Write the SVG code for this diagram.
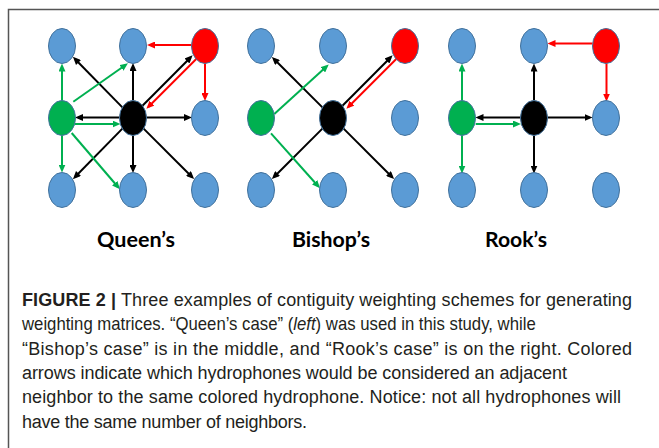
<svg xmlns="http://www.w3.org/2000/svg" width="659" height="448" viewBox="0 0 659 448">
<defs>
<style>
.n{stroke:#41719c;stroke-width:1}
.b{fill:#5b9bd5}
.r{fill:#ff0000}
.g{fill:#00b050}
.k{fill:#000000}
.ck{stroke:#000;stroke-width:2;fill:none;marker-end:url(#ak)}
.cr{stroke:#ff0000;stroke-width:2;fill:none;marker-end:url(#ar)}
.cg{stroke:#00b050;stroke-width:2;fill:none;marker-end:url(#ag)}
.lbl{font-family:Lato,"Liberation Sans",sans-serif;font-weight:bold;font-size:21px;fill:#000;text-anchor:middle}
.cap{font-family:"Liberation Sans",Arial,sans-serif;font-size:18px;fill:#231f20}
.capb{font-weight:bold}
</style>
<marker id="ak" markerUnits="userSpaceOnUse" markerWidth="8" markerHeight="7" refX="5" refY="3.5" orient="auto"><path d="M0,0 L8,3.5 L0,7 z" fill="#000"/></marker>
<marker id="ar" markerUnits="userSpaceOnUse" markerWidth="8" markerHeight="7" refX="5" refY="3.5" orient="auto"><path d="M0,0 L8,3.5 L0,7 z" fill="#ff0000"/></marker>
<marker id="ag" markerUnits="userSpaceOnUse" markerWidth="8" markerHeight="7" refX="5" refY="3.5" orient="auto"><path d="M0,0 L8,3.5 L0,7 z" fill="#00b050"/></marker>
</defs>
<rect x="0" y="0" width="659" height="448" fill="#fff"/>
<rect id="frame" x="8.5" y="9.5" width="700" height="500" fill="none" stroke="#555" stroke-width="1.5"/>

<g id="connectors">
<!-- Queen's -->
<path class="ck" d="M122.4,107.4 L75,59"/>
<path class="ck" d="M133,100.5 L133,66"/>
<path class="ck" d="M142.2,106 L190.5,57.5"/>
<path class="ck" d="M146.5,117.5 L189,117.5"/>
<path class="ck" d="M143.6,128.6 L192,177"/>
<path class="ck" d="M133,135.5 L133,170"/>
<path class="ck" d="M122.4,128.6 L75,177"/>
<path class="ck" d="M119.5,117.5 L78,117.5"/>
<path class="cr" d="M191.5,45 L150,45"/>
<path class="cr" d="M205,63.5 L205,98"/>
<path class="cr" d="M196.5,58.7 L148.5,106.7"/>
<path class="cg" d="M62,100.5 L62,66.5"/>
<path class="cg" d="M73.3,101.7 L125.5,65"/>
<path class="cg" d="M74.7,124 L117.5,124"/>
<path class="cg" d="M62,135.5 L62,169.5"/>
<path class="cg" d="M71.7,133 L118,187"/>
<!-- Bishop's -->
<path class="ck" d="M322.4,107.4 L274,59"/>
<path class="ck" d="M342.2,106 L390.5,57.5"/>
<path class="ck" d="M343.6,128.6 L392,177"/>
<path class="ck" d="M322.4,128.6 L274,177"/>
<path class="cr" d="M396.5,58.7 L348.5,106.7"/>
<path class="cg" d="M274.3,114 L326.5,66.5"/>
<path class="cg" d="M271,133.3 L318,186"/>
<!-- Rook's -->
<path class="ck" d="M534,100.5 L534,66.5"/>
<path class="ck" d="M520.5,117.5 L478.5,117.5"/>
<path class="ck" d="M547.5,117.5 L589.5,117.5"/>
<path class="ck" d="M534,135.5 L534,170.5"/>
<path class="cr" d="M592.5,43.5 L550.5,43.5"/>
<path class="cr" d="M606.5,63.5 L606.5,98.5"/>
<path class="cg" d="M462,100.5 L462,66.5"/>
<path class="cg" d="M475.7,124 L518,124"/>
<path class="cg" d="M462,135.5 L462,170.5"/>
</g>

<!-- Queen's nodes -->
<g id="q-tl"><ellipse class="n b" cx="62" cy="46" rx="13.5" ry="17.5"/></g>
<g id="q-tm"><ellipse class="n b" cx="133" cy="46" rx="13.5" ry="17.5"/></g>
<g id="q-tr"><ellipse class="n r" cx="205" cy="46" rx="13.5" ry="17.5"/></g>
<g id="q-ml"><ellipse class="n g" cx="62" cy="118" rx="13.5" ry="17.5"/></g>
<g id="q-c"><ellipse class="n k" cx="133" cy="118" rx="13.5" ry="17.5"/></g>
<g id="q-mr"><ellipse class="n b" cx="205" cy="118" rx="13.5" ry="17.5"/></g>
<g id="q-bl"><ellipse class="n b" cx="62" cy="190" rx="13.5" ry="17.5"/></g>
<g id="q-bm"><ellipse class="n b" cx="133" cy="190" rx="13.5" ry="17.5"/></g>
<g id="q-br"><ellipse class="n b" cx="205" cy="190" rx="13.5" ry="17.5"/></g>
<!-- Bishop's nodes -->
<g id="b-tl"><ellipse class="n b" cx="261" cy="46" rx="13.5" ry="17.5"/></g>
<g id="b-tm"><ellipse class="n b" cx="333" cy="46" rx="13.5" ry="17.5"/></g>
<g id="b-tr"><ellipse class="n r" cx="405" cy="46" rx="13.5" ry="17.5"/></g>
<g id="b-ml"><ellipse class="n g" cx="261" cy="118" rx="13.5" ry="17.5"/></g>
<g id="b-c"><ellipse class="n k" cx="333" cy="118" rx="13.5" ry="17.5"/></g>
<g id="b-mr"><ellipse class="n b" cx="405" cy="118" rx="13.5" ry="17.5"/></g>
<g id="b-bl"><ellipse class="n b" cx="261" cy="190" rx="13.5" ry="17.5"/></g>
<g id="b-bm"><ellipse class="n b" cx="333" cy="190" rx="13.5" ry="17.5"/></g>
<g id="b-br"><ellipse class="n b" cx="405" cy="190" rx="13.5" ry="17.5"/></g>
<!-- Rook's nodes -->
<g id="r-tl"><ellipse class="n b" cx="462" cy="46" rx="13.5" ry="17.5"/></g>
<g id="r-tm"><ellipse class="n b" cx="534" cy="46" rx="13.5" ry="17.5"/></g>
<g id="r-tr"><ellipse class="n r" cx="606" cy="46" rx="13.5" ry="17.5"/></g>
<g id="r-ml"><ellipse class="n g" cx="462" cy="118" rx="13.5" ry="17.5"/></g>
<g id="r-c"><ellipse class="n k" cx="534" cy="118" rx="13.5" ry="17.5"/></g>
<g id="r-mr"><ellipse class="n b" cx="606" cy="118" rx="13.5" ry="17.5"/></g>
<g id="r-bl"><ellipse class="n b" cx="462" cy="190" rx="13.5" ry="17.5"/></g>
<g id="r-bm"><ellipse class="n b" cx="534" cy="190" rx="13.5" ry="17.5"/></g>
<g id="r-br"><ellipse class="n b" cx="606" cy="190" rx="13.5" ry="17.5"/></g>

<g id="labels">
<text class="lbl" x="136" y="247" textLength="78" lengthAdjust="spacingAndGlyphs">Queen’s</text>
<text class="lbl" x="331" y="247" textLength="78" lengthAdjust="spacingAndGlyphs">Bishop’s</text>
<text class="lbl" x="516" y="247" textLength="62" lengthAdjust="spacingAndGlyphs">Rook’s</text>
</g>

<g id="caption" class="cap">
<text x="22" y="306" textLength="610" lengthAdjust="spacing"><tspan class="capb">FIGURE 2 |</tspan> Three examples of contiguity weighting schemes for generating</text>
<text transform="translate(22,330.3) scale(0.93,1)" x="0" y="0">weighting matrices. “Queen’s case” (<tspan font-style="italic">left</tspan>) was used in this study, while</text>
<text x="22" y="354.6" textLength="610" lengthAdjust="spacing">“Bishop’s case” is in the middle, and “Rook’s case” is on the right. Colored</text>
<text x="22" y="378.9" textLength="545" lengthAdjust="spacing">arrows indicate which hydrophones would be considered an adjacent</text>
<text x="22" y="403.2" textLength="599" lengthAdjust="spacing">neighbor to the same colored hydrophone. Notice: not all hydrophones will</text>
<text x="22" y="427.5" textLength="285" lengthAdjust="spacing">have the same number of neighbors.</text>
</g>
</svg>
